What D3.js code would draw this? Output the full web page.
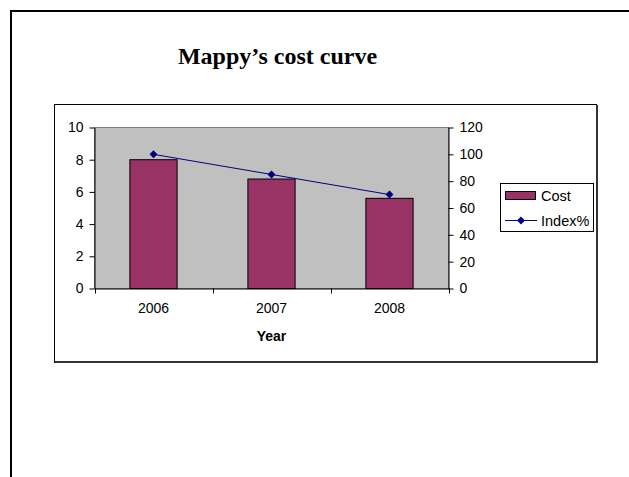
<!DOCTYPE html>
<html>
<head>
<meta charset="utf-8">
<script src="https://cdn.jsdelivr.net/npm/d3@7"></script>
<style>
  body { margin: 0; background: #fff; }
  svg { display: block; }
</style>
</head>
<body>
<svg></svg>
<script>
// chart data
const years = ['2006', '2007', '2008'];
const cost = [8, 6.8, 5.6];
const indexPct = [100, 85, 70];
const leftTicks = [0, 2, 4, 6, 8, 10];
const rightTicks = [0, 20, 40, 60, 80, 100, 120];

let width = 629;
let height = 477;

let plot = { left: 94.5, right: 448.5, top: 127.5, bottom: 288.5 };

let svg = d3.select('svg')
    .attr('width', width)
    .attr('height', height)
    .style('font-family', 'Arial, "Liberation Sans", sans-serif');

// outer slide frame
svg.append('path')
    .attr('d', 'M11,' + height + ' V11 H' + width)
    .attr('fill', 'none')
    .attr('stroke', '#000')
    .attr('stroke-width', 2);

svg.append('text')
    .attr('x', 277.5)
    .attr('y', 63.5)
    .attr('text-anchor', 'middle')
    .style('font-family', '"Liberation Serif", "Times New Roman", serif')
    .style('font-weight', 'bold')
    .style('font-size', '24px')
    .text('Mappy\u2019s cost curve');

// chart box, darker right/bottom edge
svg.append('rect')
    .attr('x', 54.5).attr('y', 104.5)
    .attr('width', 542).attr('height', 258)
    .attr('fill', '#fff')
    .attr('stroke', '#000');
svg.append('path')
    .attr('d', 'M55,362 H597 V105')
    .attr('fill', 'none')
    .attr('stroke', '#333')
    .attr('stroke-width', 2);

// scales
let xScale = d3.scaleBand()
    .domain(years)
    .range([plot.left, plot.right])
    .paddingInner(0.6)
    .paddingOuter(0.3);

let yLeft = d3.scaleLinear().domain([0, 10]).range([plot.bottom, plot.top]);
let yRight = d3.scaleLinear().domain([0, 120]).range([plot.bottom, plot.top]);

svg.append('rect')
    .attr('x', plot.left).attr('y', plot.top)
    .attr('width', plot.right - plot.left)
    .attr('height', plot.bottom - plot.top)
    .attr('fill', '#c0c0c0')
    .attr('stroke', '#808080');

svg.selectAll('rect.bar')
    .data(cost)
    .enter()
    .append('rect')
    .attr('class', 'bar')
    .attr('x', (d, i) => xScale(years[i]))
    .attr('y', d => yLeft(d))
    .attr('width', xScale.bandwidth())
    .attr('height', d => plot.bottom - yLeft(d))
    .attr('fill', '#993366')
    .attr('stroke', '#000');

// index line
let line = d3.line()
    .x((d, i) => xScale(years[i]) + xScale.bandwidth() / 2)
    .y(d => yRight(d));

svg.append('path')
    .datum(indexPct)
    .attr('d', line)
    .attr('fill', 'none')
    .attr('stroke', '#000080')
    .attr('stroke-width', 1);

let diamond = d3.symbol().type(d3.symbolDiamond2).size(40);

svg.selectAll('path.marker')
    .data(indexPct)
    .enter()
    .append('path')
    .attr('class', 'marker')
    .attr('d', diamond)
    .attr('transform', (d, i) => 'translate(' + (xScale(years[i]) + xScale.bandwidth() / 2) + ',' + yRight(d) + ')')
    .attr('fill', '#000080');

// axes
let leftAxis = d3.axisLeft(yLeft).tickValues(leftTicks).tickSize(5).tickPadding(6).tickSizeOuter(0);
let rightAxis = d3.axisRight(yRight).tickValues(rightTicks).tickSize(5).tickPadding(6).tickSizeOuter(0);

let styleAxis = (g) => {
    g.selectAll('path.domain').attr('stroke', '#000');
    g.selectAll('line').attr('stroke', '#000');
    g.selectAll('text').style('font-size', '14px').attr('fill', '#000');
    g.attr('font-family', null);
};

svg.append('g')
    .attr('transform', 'translate(' + plot.left + ',0)')
    .call(leftAxis)
    .call(styleAxis);

svg.append('g')
    .attr('transform', 'translate(' + plot.right + ',0)')
    .call(rightAxis)
    .call(styleAxis);

// category axis: labels from band scale, ticks at band boundaries
let xAxis = d3.axisBottom(xScale).tickSize(0).tickPadding(15).tickSizeOuter(0);
svg.append('g')
    .attr('transform', 'translate(0,' + plot.bottom + ')')
    .call(xAxis)
    .call(styleAxis);

let step = xScale.step();
let bounds = [plot.left].concat(years.map(y => xScale(y) - step * 0.3 + step));

svg.selectAll('line.xtick')
    .data(bounds)
    .enter()
    .append('line')
    .attr('class', 'xtick')
    .attr('x1', d => Math.round(d) + 0.5)
    .attr('x2', d => Math.round(d) + 0.5)
    .attr('y1', plot.bottom)
    .attr('y2', plot.bottom + 5)
    .attr('stroke', '#000');

svg.append('text')
    .attr('x', (plot.left + plot.right) / 2)
    .attr('y', 341)
    .attr('text-anchor', 'middle')
    .style('font-weight', 'bold')
    .style('font-size', '14px')
    .text('Year');

// legend
let legend = svg.append('g');
legend.append('rect')
    .attr('x', 500.5).attr('y', 183.5)
    .attr('width', 93).attr('height', 48)
    .attr('fill', '#fff')
    .attr('stroke', '#000');
legend.append('rect')
    .attr('x', 505.5).attr('y', 191.5)
    .attr('width', 30).attr('height', 8)
    .attr('fill', '#993366')
    .attr('stroke', '#000');
legend.append('text')
    .attr('x', 541).attr('y', 200.5)
    .style('font-size', '14.5px')
    .text('Cost');
legend.append('line')
    .attr('x1', 505).attr('x2', 537)
    .attr('y1', 220.5).attr('y2', 220.5)
    .attr('stroke', '#000080');
legend.append('path')
    .attr('d', diamond)
    .attr('transform', 'translate(521,220.5)')
    .attr('fill', '#000080');
legend.append('text')
    .attr('x', 541).attr('y', 225.5)
    .style('font-size', '14.5px')
    .text('Index%');
</script>
</body>
</html>
